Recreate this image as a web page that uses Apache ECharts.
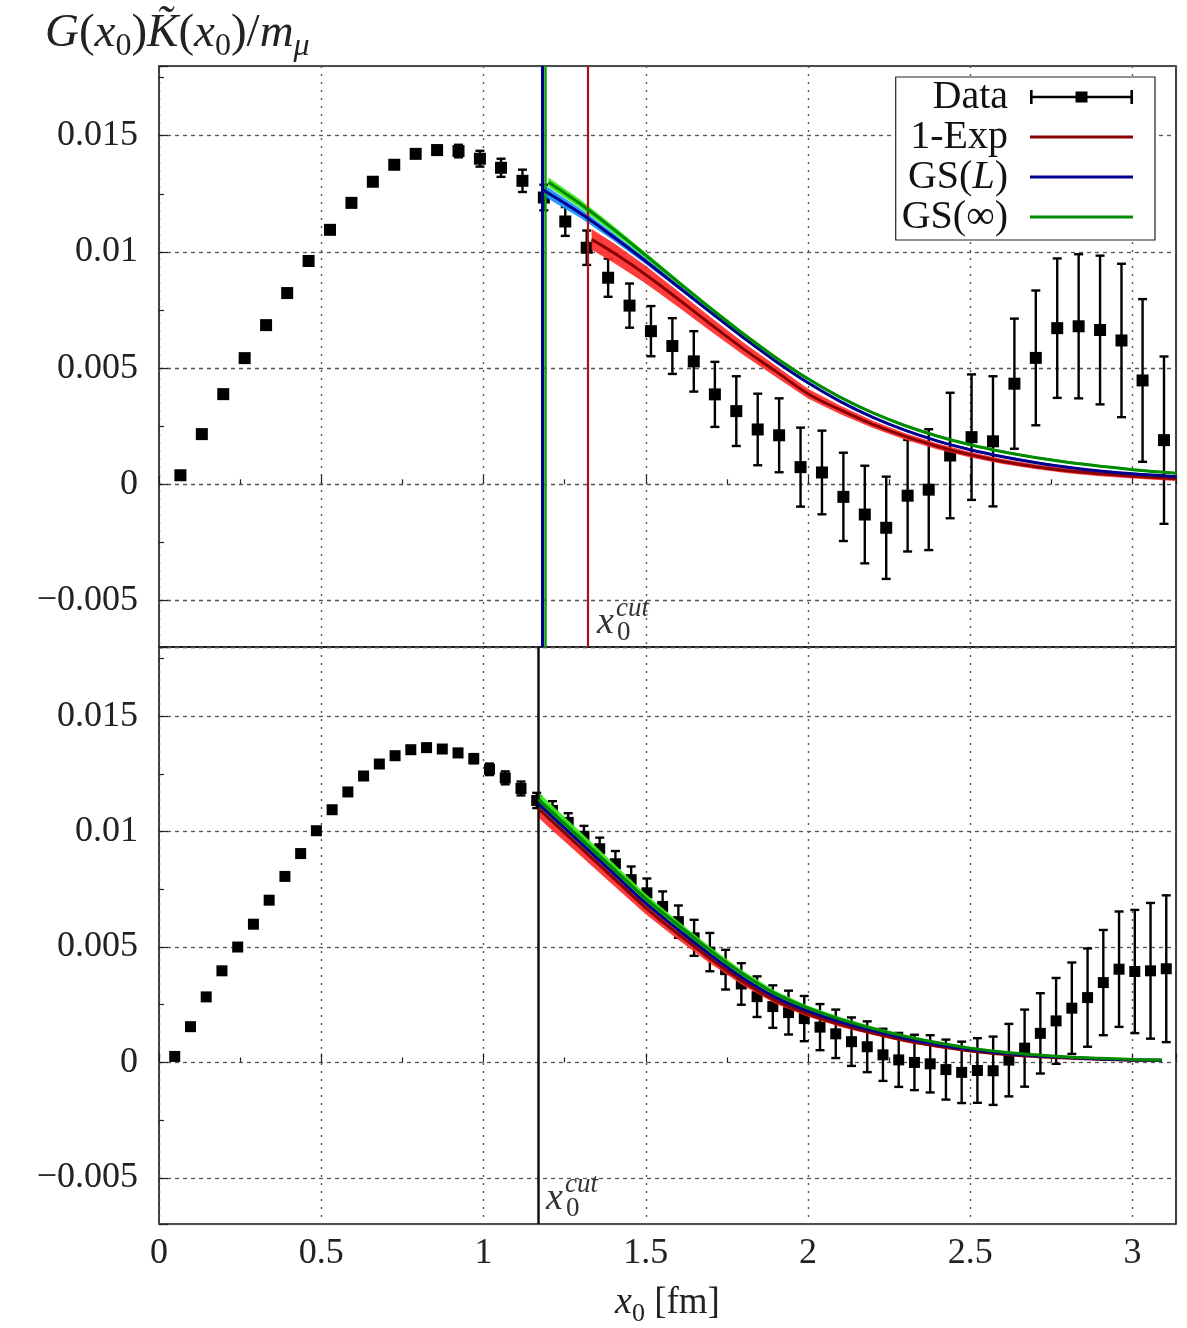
<!DOCTYPE html>
<html>
<head>
<meta charset="utf-8">
<title>G(x0) K(x0) / m_mu</title>
<script src="https://cdn.jsdelivr.net/npm/echarts@6.0.0/dist/echarts.min.js"></script>
<style>
  html, body { margin: 0; padding: 0; background: #fff; }
  #chart { width: 1187px; height: 1328px; }
</style>
</head>
<body>
<div id="chart"></div>
<script>
const serif = "'Liberation Serif', 'DejaVu Serif', serif";

// upper panel: lattice data (x0 in fm, value, error)
const xTop = [0.066, 0.132, 0.198, 0.264, 0.330, 0.395, 0.461, 0.527, 0.593, 0.659,
  0.725, 0.791, 0.857, 0.923, 0.989, 1.054, 1.120, 1.186, 1.252, 1.318,
  1.384, 1.450, 1.516, 1.582, 1.648, 1.713, 1.779, 1.845, 1.911, 1.977,
  2.043, 2.109, 2.175, 2.241, 2.307, 2.372, 2.438, 2.504, 2.570, 2.636,
  2.702, 2.768, 2.834, 2.900, 2.966, 3.031, 3.097];
const yTop = [0.00039, 0.00216, 0.00388, 0.00543, 0.00685, 0.00823, 0.00961, 0.01095, 0.01211, 0.01302,
  0.01375, 0.01422, 0.01438, 0.01434, 0.01401, 0.01362, 0.01306, 0.01234, 0.01131, 0.01018,
  0.00889, 0.00769, 0.00659, 0.00595, 0.00529, 0.00387, 0.00315, 0.00236, 0.00211, 0.00074,
  0.00051, -0.00054, -0.0013, -0.00187, -0.00049, -0.00023, 0.00124, 0.00203, 0.00185, 0.00433,
  0.00544, 0.00672, 0.0068, 0.00664, 0.00619, 0.00447, 0.0019];
const eTop = [0.00005, 0.00005, 0.00005, 0.00006, 0.00006, 0.00007, 0.00008, 0.00009, 0.0001, 0.00011,
  0.00013, 0.00015, 0.0002, 0.00027, 0.00034, 0.00039, 0.00048, 0.00055, 0.00062, 0.00074,
  0.00082, 0.00095, 0.00108, 0.0012, 0.0013, 0.0014, 0.0015, 0.00154, 0.00159, 0.0017,
  0.0018, 0.0019, 0.0021, 0.0022, 0.0024, 0.0026, 0.0027, 0.0027, 0.0028, 0.0028,
  0.0029, 0.003, 0.0031, 0.0032, 0.0033, 0.0035, 0.0036];

// upper panel: fits
const xExpTop = [1.333, 1.4, 1.5, 1.6, 1.7, 1.8, 1.9, 2.0, 2.1, 2.2, 2.3, 2.4, 2.5, 2.6, 2.7, 2.8, 2.9, 3.0, 3.134];
const yExpTop = [0.01054, 0.00997, 0.00902, 0.00797, 0.00689, 0.00584, 0.00487, 0.0039, 0.0032, 0.00258, 0.00206, 0.00163, 0.00127, 0.00098, 0.00076, 0.00058, 0.00045, 0.00035, 0.00024];
const dExpTop = [0.00045, 0.00042, 0.00038, 0.00034, 0.0003, 0.00027, 0.00024, 0.00021, 0.00018, 0.00016, 0.00014, 0.00013, 0.00012, 0.00011, 0.0001, 0.0001, 0.0001, 0.0001, 0.0001];
const xGSLTop = [1.18, 1.3, 1.4, 1.5, 1.6, 1.7, 1.8, 1.9, 2.0, 2.1, 2.2, 2.3, 2.4, 2.5, 2.6, 2.7, 2.8, 2.9, 3.0, 3.134];
const yGSLTop = [0.0127, 0.01165, 0.01065, 0.0096, 0.0085, 0.0074, 0.00632, 0.0053, 0.00437, 0.00356, 0.00288, 0.00232, 0.00186, 0.00149, 0.00119, 0.00094, 0.00073, 0.00057, 0.00045, 0.00033];
const dGSLTop = [0.00025, 0.0002, 0.00016, 0.00013, 0.0001, 0.00008, 0.00007, 0.00006, 0.00005, 0.00005, 0.00005, 0.00005, 0.00005, 0.00005, 0.00005, 0.00005, 0.00005, 0.00005, 0.00005, 0.00005];
const xGSITop = [1.2, 1.3, 1.4, 1.5, 1.6, 1.7, 1.8, 1.9, 2.0, 2.1, 2.2, 2.3, 2.4, 2.5, 2.6, 2.7, 2.8, 2.9, 3.0, 3.134];
const yGSITop = [0.0130, 0.01205, 0.01098, 0.00985, 0.0087, 0.00757, 0.00648, 0.00546, 0.00454, 0.00374, 0.00307, 0.00252, 0.00207, 0.0017, 0.0014, 0.00115, 0.00095, 0.00078, 0.00063, 0.00048];
const dGSITop = [0.0002, 0.00018, 0.00015, 0.00012, 0.0001, 0.00009, 0.00008, 0.00007, 0.00006, 0.00005, 0.00005, 0.00005, 0.00005, 0.00005, 0.00005, 0.00005, 0.00005, 0.00005, 0.00005, 0.00005];
const cutTop = { exp: 1.317, gsl: 1.177, gsi: 1.192 };

// lower panel: lattice data
const xBot = [0.0485, 0.097, 0.1455, 0.194, 0.2425, 0.291, 0.3395, 0.388, 0.4365, 0.485,
  0.5335, 0.582, 0.6305, 0.679, 0.7275, 0.776, 0.8245, 0.873, 0.9215, 0.97,
  1.0185, 1.067, 1.1155, 1.164, 1.2125, 1.261, 1.3095, 1.358, 1.4065, 1.455,
  1.5035, 1.552, 1.6005, 1.649, 1.6975, 1.746, 1.7945, 1.843, 1.8915, 1.94,
  1.9885, 2.037, 2.0855, 2.134, 2.1825, 2.231, 2.2795, 2.328, 2.3765, 2.425,
  2.4735, 2.522, 2.5705, 2.619, 2.6675, 2.716, 2.7645, 2.813, 2.8615, 2.91,
  2.9585, 3.007, 3.0555, 3.104];
const yBot = [0.00026, 0.00155, 0.00284, 0.00397, 0.005, 0.00599, 0.00703, 0.00806, 0.00905, 0.01004,
  0.01095, 0.01172, 0.01241, 0.01293, 0.01329, 0.01355, 0.01364, 0.01358, 0.01341, 0.01316,
  0.0127, 0.01233, 0.01187, 0.01135, 0.01092, 0.0104, 0.0098, 0.00926, 0.00861, 0.00792,
  0.00735, 0.00676, 0.0061, 0.0054, 0.00478, 0.00402, 0.0034, 0.00285, 0.00242, 0.00216,
  0.0019, 0.00153, 0.00124, 0.0009, 0.00068, 0.00033, 0.00011, 0.0, -0.00006, -0.00031,
  -0.00043, -0.00035, -0.00036, 0.0001, 0.00062, 0.00126, 0.0018, 0.00235, 0.00281, 0.00346,
  0.00404, 0.00394, 0.00397, 0.00406];
const eBot = [0.00004, 0.00004, 0.00004, 0.00004, 0.00004, 0.00004, 0.00004, 0.00004, 0.00004, 0.00004,
  0.00005, 0.00006, 0.00007, 0.00008, 0.00009, 0.0001, 0.00012, 0.00014, 0.00017, 0.0002,
  0.00025, 0.00028, 0.0003, 0.00033, 0.0004, 0.0004, 0.00045, 0.00048, 0.00055, 0.00057,
  0.00062, 0.00065, 0.0007, 0.00078, 0.00083, 0.00086, 0.0009, 0.00088, 0.00092, 0.00095,
  0.00098, 0.001, 0.00105, 0.00105, 0.0011, 0.00113, 0.00117, 0.0012, 0.00124, 0.0013,
  0.00133, 0.0014, 0.00148, 0.00157, 0.00167, 0.00174, 0.00186, 0.00198, 0.00213, 0.00228,
  0.0025, 0.00267, 0.00294, 0.00318];

// lower panel: fits
const xFitBot = [1.17, 1.2, 1.3, 1.4, 1.5, 1.6, 1.7, 1.8, 1.9, 2.0, 2.1, 2.2, 2.3, 2.4, 2.5, 2.6, 2.7, 2.8, 2.9, 3.0, 3.09];
const yExpBot = [0.0110, 0.0106, 0.0093, 0.0080, 0.0067, 0.00556, 0.00448, 0.0035, 0.00268, 0.0021, 0.00164, 0.00127, 0.00095, 0.0007, 0.0005, 0.00036, 0.00026, 0.00019, 0.00014, 0.0001, 0.00008];
const dExpBot = [0.0004, 0.0004, 0.00036, 0.00032, 0.00028, 0.00024, 0.0002, 0.00017, 0.00014, 0.00012, 0.0001, 0.00008, 0.00007, 0.00006, 0.00005, 0.00005, 0.00005, 0.00005, 0.00005, 0.00005, 0.00005];
const yGSLBot = [0.0112, 0.0108, 0.0095, 0.0082, 0.0069, 0.00575, 0.00465, 0.00365, 0.00282, 0.00222, 0.00175, 0.00137, 0.00104, 0.00077, 0.00056, 0.0004, 0.00029, 0.00021, 0.00015, 0.00011, 0.00009];
const dGSLBot = [0.00012, 0.00012, 0.0001, 0.0001, 0.00009, 0.00008, 0.00007, 0.00006, 0.00005, 0.00005, 0.00005, 0.00005, 0.00004, 0.00004, 0.00004, 0.00004, 0.00004, 0.00004, 0.00004, 0.00004, 0.00004];
const yGSIBot = [0.0114, 0.0110, 0.0097, 0.0084, 0.0071, 0.00595, 0.00484, 0.00383, 0.00298, 0.00236, 0.00187, 0.00147, 0.00113, 0.00085, 0.00062, 0.00045, 0.00033, 0.00024, 0.00018, 0.00013, 0.00011];
const dGSIBot = [0.0003, 0.0003, 0.00027, 0.00024, 0.0002, 0.00017, 0.00015, 0.00013, 0.00011, 0.0001, 0.00009, 0.00008, 0.00007, 0.00006, 0.00005, 0.00005, 0.00005, 0.00005, 0.00005, 0.00005, 0.00005];
const cutBot = 1.166;

const colExp = '#8b0000', colGSL = '#000090', colGSI = '#008a00';
const bandExp = 'rgba(255,40,40,0.9)', bandGSL = 'rgba(30,150,255,0.95)', bandGSI = 'rgba(60,235,30,0.95)';

const chart = echarts.init(document.getElementById('chart'));

const fmt = v => (Math.abs(v) < 1e-12 ? '0' : String(+v.toFixed(4)).replace('-', '\u2212'));
const zip = (xs, ys) => xs.map((x, i) => [x, ys[i]]);

function xAxisCfg(g, labels) {
  return {
    type: 'value', gridIndex: g, min: 0, max: 3.134, interval: 0.5,
    axisLine: { show: false },
    axisTick: { inside: true, length: 9, lineStyle: { color: '#222', width: 1.2 } },
    minorTick: { show: true, splitNumber: 2, length: 5, lineStyle: { color: '#222', width: 1.2 } },
    splitLine: { show: true, lineStyle: { color: '#555', type: [2, 6], width: 1.4 } },
    axisLabel: { show: labels, showMaxLabel: false, fontFamily: serif, fontSize: 36, color: '#222', margin: 12 },
    name: labels ? '{it|x}{sub|0} [fm]' : '',
    nameLocation: 'middle', nameGap: 55,
    nameTextStyle: {
      fontFamily: serif, fontSize: 37, color: '#222', lineHeight: 48,
      rich: {
        it: { fontFamily: serif, fontStyle: 'italic', fontSize: 38, lineHeight: 48 },
        sub: { fontFamily: serif, fontSize: 26, lineHeight: 24, verticalAlign: 'bottom' }
      }
    }
  };
}
function yAxisCfg(g) {
  return {
    type: 'value', gridIndex: g, min: -0.007, max: 0.018, splitNumber: 5,
    axisLine: { show: false },
    axisTick: { inside: true, length: 9, lineStyle: { color: '#222', width: 1.2 } },
    minorTick: { show: true, splitNumber: 2, length: 5, lineStyle: { color: '#222', width: 1.2 } },
    splitLine: { show: true, lineStyle: { color: '#555', type: [4, 4], width: 1.3 } },
    axisLabel: { showMinLabel: false, showMaxLabel: false, formatter: fmt, fontFamily: serif, fontSize: 36, color: '#222', margin: 21 }
  };
}

function errSeries(xs, ys, es, g, cap) {
  return {
    type: 'custom', xAxisIndex: g, yAxisIndex: g, clip: true, silent: true, z: 2,
    data: xs.map((x, i) => [x, ys[i], es[i]]),
    renderItem(params, api) {
      const x = api.value(0), y = api.value(1), e = api.value(2);
      const hi = api.coord([x, y + e]), lo = api.coord([x, y - e]);
      const st = { stroke: '#000', lineWidth: 2.4 };
      return { type: 'group', children: [
        { type: 'line', shape: { x1: hi[0], y1: hi[1], x2: lo[0], y2: lo[1] }, style: st },
        { type: 'line', shape: { x1: hi[0] - cap, y1: hi[1], x2: hi[0] + cap, y2: hi[1] }, style: st },
        { type: 'line', shape: { x1: lo[0] - cap, y1: lo[1], x2: lo[0] + cap, y2: lo[1] }, style: st }
      ] };
    }
  };
}
function bandSeries(xs, ys, ds, color, g) {
  return {
    type: 'custom', xAxisIndex: g, yAxisIndex: g, clip: true, silent: true, z: 4,
    data: [[xs[0], ys[0]]],
    renderItem(params, api) {
      const up = xs.map((x, i) => api.coord([x, ys[i] + ds[i]]));
      const dn = xs.map((x, i) => api.coord([x, ys[i] - ds[i]])).reverse();
      return { type: 'polygon', shape: { points: up.concat(dn) }, style: { fill: color } };
    }
  };
}
function fitSeries(name, xs, ys, color, g, cut) {
  const s = {
    name, type: 'line', xAxisIndex: g, yAxisIndex: g, data: zip(xs, ys),
    showSymbol: false, symbol: 'none', smooth: 0.4, z: 5, silent: true,
    lineStyle: { color, width: 3 }, itemStyle: { color }
  };
  if (cut) {
    s.markLine = { silent: true, symbol: ['none', 'none'], label: { show: false },
      lineStyle: { color: cut.color, width: cut.width, type: 'solid' }, data: [{ xAxis: cut.x }] };
  }
  return s;
}

const lineIcon = 'path://M0,0h0.01v0.01z M0,5.6h103v2.8h-103z M103,14h-0.01v-0.01z';
const dataIcon = 'path://M0,0h2.6v14h-2.6z M0,5.8h103v2.4h-103z M100.4,0h2.6v14h-2.6z M45.5,1.5h12v11h-12z';

const option = {
  animation: false,
  backgroundColor: '#fff',
  grid: [
    { left: 159, top: 66, width: 1017, height: 581, show: true, borderColor: '#111', borderWidth: 1.6 },
    { left: 159, top: 647, width: 1017, height: 581, show: true, borderColor: '#111', borderWidth: 1.6 }
  ],
  xAxis: [xAxisCfg(0, false), xAxisCfg(1, true)],
  yAxis: [yAxisCfg(0), yAxisCfg(1)],
  legend: {
    orient: 'vertical', right: 32, top: 77, align: 'right',
    itemWidth: 103, itemHeight: 14, itemGap: 0,
    padding: [0, 22, 3, 6],
    backgroundColor: '#fff', borderColor: '#222', borderWidth: 1.2,
    selectedMode: false,
    textStyle: {
      fontFamily: serif, fontSize: 40, color: '#111', lineHeight: 40, padding: [0, 17, 0, 0],
      rich: { it: { fontFamily: serif, fontStyle: 'italic', fontSize: 40, lineHeight: 40 } }
    },
    formatter: n => (n === 'GS(L)' ? 'GS({it|L})' : n),
    data: [
      { name: 'Data', icon: dataIcon, itemStyle: { color: '#000' } },
      { name: '1-Exp', icon: lineIcon, itemStyle: { color: colExp } },
      { name: 'GS(L)', icon: lineIcon, itemStyle: { color: colGSL } },
      { name: 'GS(\u221e)', icon: lineIcon, itemStyle: { color: colGSI } }
    ]
  },
  series: [
    // upper panel
    errSeries(xTop, yTop, eTop, 0, 4.5),
    { name: 'Data', type: 'scatter', xAxisIndex: 0, yAxisIndex: 0, data: zip(xTop, yTop),
      symbol: 'rect', symbolSize: 12, itemStyle: { color: '#000', opacity: 1 }, z: 3, silent: true },
    bandSeries(xExpTop, yExpTop, dExpTop, bandExp, 0),
    bandSeries(xGSLTop, yGSLTop, dGSLTop, bandGSL, 0),
    bandSeries(xGSITop, yGSITop, dGSITop, bandGSI, 0),
    fitSeries('1-Exp', xExpTop, yExpTop, colExp, 0, { x: cutTop.exp, color: '#b01010', width: 2.2 }),
    fitSeries('GS(L)', xGSLTop, yGSLTop, colGSL, 0, { x: cutTop.gsl, color: colGSL, width: 3 }),
    fitSeries('GS(\u221e)', xGSITop, yGSITop, colGSI, 0, { x: cutTop.gsi, color: '#119911', width: 2.5 }),
    // lower panel
    errSeries(xBot, yBot, eBot, 1, 4.5),
    { name: 'Data', type: 'scatter', xAxisIndex: 1, yAxisIndex: 1, data: zip(xBot, yBot),
      symbol: 'rect', symbolSize: 11, itemStyle: { color: '#000', opacity: 1 }, z: 3, silent: true,
      markLine: { silent: true, symbol: ['none', 'none'], label: { show: false },
        lineStyle: { color: '#111', width: 2.5, type: 'solid' }, data: [{ xAxis: cutBot }] } },
    bandSeries(xFitBot, yExpBot, dExpBot, bandExp, 1),
    bandSeries(xFitBot, yGSLBot, dGSLBot, bandGSL, 1),
    bandSeries(xFitBot, yGSIBot, dGSIBot, bandGSI, 1),
    fitSeries('1-Exp', xFitBot, yExpBot, colExp, 1),
    fitSeries('GS(L)', xFitBot, yGSLBot, colGSL, 1),
    fitSeries('GS(\u221e)', xFitBot, yGSIBot, colGSI, 1)
  ]
};
chart.setOption(option);

// axis title and x0^cut annotations, placed through the axes' own scales
function cutLabel(g, pos) {
  const p = chart.convertToPixel({ gridIndex: g }, pos);
  const it = sz => ({ fontFamily: serif, fontStyle: 'italic', fontSize: sz, fill: '#333', verticalAlign: 'middle' });
  return { type: 'group', children: [
    { type: 'text', x: p[0], y: p[1], style: Object.assign({ text: 'x' }, it(38)) },
    { type: 'text', x: p[0] + 19, y: p[1] - 14, style: Object.assign({ text: 'cut' }, it(27)) },
    { type: 'text', x: p[0] + 20, y: p[1] + 10, style: { text: '0', fontFamily: serif, fontSize: 27, fill: '#333', verticalAlign: 'middle' } }
  ] };
}
chart.setOption({
  graphic: [
    { type: 'text', left: 45, top: 10, style: {
      text: '{it|G}{rm|(}{it|x}{sub|0}{rm|)}{it|K\u0303}{rm|(}{it|x}{sub|0}{rm|)/}{it|m}{subi|\u03bc}',
      fill: '#222',
      rich: {
        it: { fontFamily: serif, fontStyle: 'italic', fontSize: 47, lineHeight: 58 },
        rm: { fontFamily: serif, fontSize: 47, lineHeight: 58 },
        sub: { fontFamily: serif, fontSize: 32, lineHeight: 29, verticalAlign: 'bottom' },
        subi: { fontFamily: serif, fontStyle: 'italic', fontSize: 32, lineHeight: 29, verticalAlign: 'bottom' }
      }
    } },
    cutLabel(0, [1.35, -0.00598]),
    cutLabel(1, [1.1926, -0.0059])
  ]
});
</script>
</body>
</html>
